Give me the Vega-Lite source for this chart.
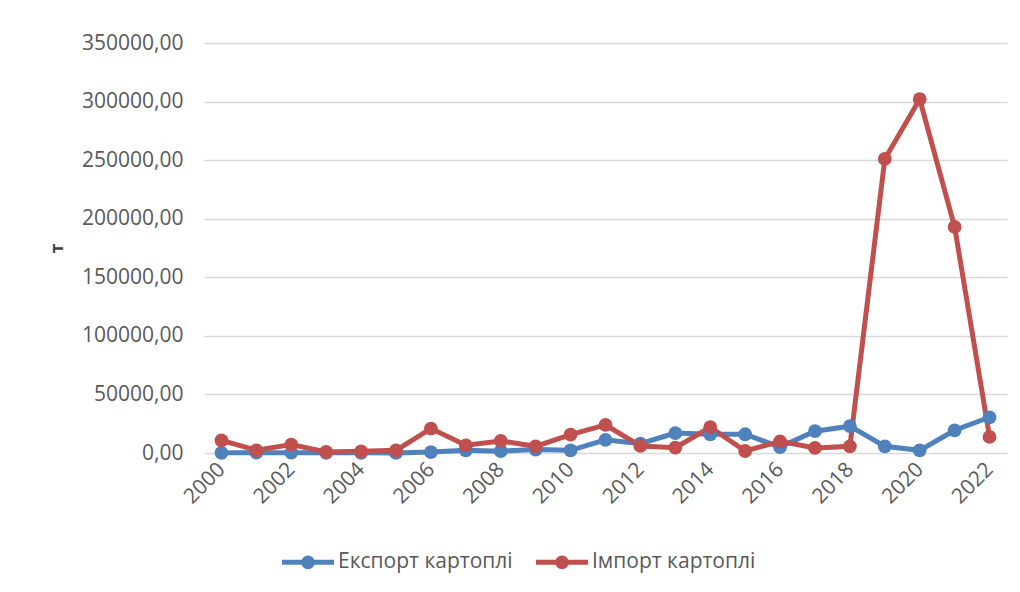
{
  "$schema": "https://vega.github.io/schema/vega-lite/v6.json",
  "width": 803,
  "height": 410,
  "autosize": {"type": "none"},
  "padding": {"left": 204, "top": 43, "right": 13, "bottom": 139},
  "background": "white",
  "config": {
    "view": {"stroke": null},
    "font": "Open Sans",
    "axis": {"labelFont": "Open Sans", "labelColor": "#595959", "labelFontSize": 21, "titleFont": "Open Sans"},
    "legend": {"labelFont": "Open Sans", "labelColor": "#595959", "labelFontSize": 21}
  },
  "data": {
    "values": [
      {"year": "2000", "series": "Експорт картоплі", "value": 200},
      {"year": "2001", "series": "Експорт картоплі", "value": 300},
      {"year": "2002", "series": "Експорт картоплі", "value": 300},
      {"year": "2003", "series": "Експорт картоплі", "value": 200},
      {"year": "2004", "series": "Експорт картоплі", "value": 200},
      {"year": "2005", "series": "Експорт картоплі", "value": 100},
      {"year": "2006", "series": "Експорт картоплі", "value": 800},
      {"year": "2007", "series": "Експорт картоплі", "value": 2300},
      {"year": "2008", "series": "Експорт картоплі", "value": 1600},
      {"year": "2009", "series": "Експорт картоплі", "value": 2900},
      {"year": "2010", "series": "Експорт картоплі", "value": 2300},
      {"year": "2011", "series": "Експорт картоплі", "value": 11200},
      {"year": "2012", "series": "Експорт картоплі", "value": 8000},
      {"year": "2013", "series": "Експорт картоплі", "value": 17000},
      {"year": "2014", "series": "Експорт картоплі", "value": 16000},
      {"year": "2015", "series": "Експорт картоплі", "value": 16000},
      {"year": "2016", "series": "Експорт картоплі", "value": 5000},
      {"year": "2017", "series": "Експорт картоплі", "value": 18600},
      {"year": "2018", "series": "Експорт картоплі", "value": 22900},
      {"year": "2019", "series": "Експорт картоплі", "value": 5700},
      {"year": "2020", "series": "Експорт картоплі", "value": 2300},
      {"year": "2021", "series": "Експорт картоплі", "value": 19400},
      {"year": "2022", "series": "Експорт картоплі", "value": 30500},
      {"year": "2000", "series": "Імпорт картоплі", "value": 10700},
      {"year": "2001", "series": "Імпорт картоплі", "value": 2300},
      {"year": "2002", "series": "Імпорт картоплі", "value": 7200},
      {"year": "2003", "series": "Імпорт картоплі", "value": 900},
      {"year": "2004", "series": "Імпорт картоплі", "value": 1400},
      {"year": "2005", "series": "Імпорт картоплі", "value": 2300},
      {"year": "2006", "series": "Імпорт картоплі", "value": 20900},
      {"year": "2007", "series": "Імпорт картоплі", "value": 6600},
      {"year": "2008", "series": "Імпорт картоплі", "value": 10300},
      {"year": "2009", "series": "Імпорт картоплі", "value": 5700},
      {"year": "2010", "series": "Імпорт картоплі", "value": 15700},
      {"year": "2011", "series": "Імпорт картоплі", "value": 24000},
      {"year": "2012", "series": "Імпорт картоплі", "value": 6000},
      {"year": "2013", "series": "Імпорт картоплі", "value": 4500},
      {"year": "2014", "series": "Імпорт картоплі", "value": 22000},
      {"year": "2015", "series": "Імпорт картоплі", "value": 1700},
      {"year": "2016", "series": "Імпорт картоплі", "value": 10000},
      {"year": "2017", "series": "Імпорт картоплі", "value": 4300},
      {"year": "2018", "series": "Імпорт картоплі", "value": 5700},
      {"year": "2019", "series": "Імпорт картоплі", "value": 251000},
      {"year": "2020", "series": "Імпорт картоплі", "value": 302000},
      {"year": "2021", "series": "Імпорт картоплі", "value": 193000},
      {"year": "2022", "series": "Імпорт картоплі", "value": 13700}
    ]
  },
  "encoding": {
    "x": {
      "field": "year",
      "type": "ordinal",
      "scale": {"type": "point", "padding": 0.5},
      "axis": {
        "title": null,
        "labelAngle": -45,
        "labelAlign": "right",
        "labelBaseline": "middle",
        "labelPadding": 13,
        "ticks": false,
        "domain": false,
        "grid": false,
        "labelExpr": "parseInt(datum.value) % 2 == 0 ? datum.value : ''"
      }
    },
    "y": {
      "field": "value",
      "type": "quantitative",
      "scale": {"domain": [0, 350000], "nice": false},
      "axis": {
        "title": "т",
        "titleFontSize": 18,
        "titleFontWeight": "bold",
        "titleColor": "#404040",
        "titlePadding": 15,
        "values": [0, 50000, 100000, 150000, 200000, 250000, 300000, 350000],
        "labelExpr": "replace(format(datum.value, '.2f'), '.', ',')",
        "labelPadding": 21,
        "ticks": false,
        "domain": false,
        "grid": true,
        "gridColor": "#d9d9d9",
        "gridWidth": 1.3
      }
    },
    "color": {
      "field": "series",
      "type": "nominal",
      "scale": {"domain": ["Експорт картоплі", "Імпорт картоплі"], "range": ["#4f81bd", "#c0504d"]},
      "legend": {
        "title": null,
        "orient": "none",
        "direction": "horizontal",
        "legendX": 88,
        "legendY": 503,
        "symbolType": "M-2,0H2M-0.33,0a0.33,0.33 0 1,0 0.66,0a0.33,0.33 0 1,0 -0.66,0",
        "symbolSize": 680,
        "symbolStrokeWidth": 5,
        "labelOffset": 14,
        "labelLimit": 400,
        "columnPadding": 12
      }
    }
  },
  "layer": [
    {"mark": {"type": "line", "strokeWidth": 5}},
    {"mark": {"type": "point", "filled": true, "opacity": 1, "size": 190}}
  ]
}
